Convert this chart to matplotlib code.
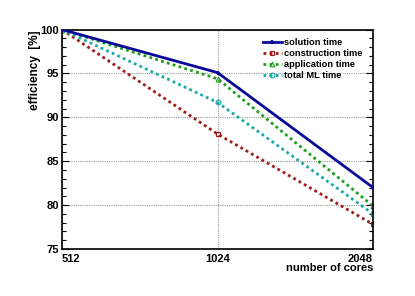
import matplotlib
matplotlib.use("Agg")
import matplotlib.pyplot as plt
from matplotlib.ticker import FixedLocator, NullFormatter

cores = [512, 1024, 2048]
solution = [100.0, 95.1, 82.0]
construction = [100.0, 88.1, 77.8]
application = [100.0, 94.4, 79.9]
total_ml = [100.0, 91.7, 79.0]
yticks = [75, 80, 85, 90, 95, 100]

plt.rcParams['font.family'] = ['Liberation Sans', 'DejaVu Sans']
plt.rcParams['font.weight'] = 'bold'

fig = plt.figure(figsize=(4.15, 2.96), dpi=100)
ax = fig.add_axes([0.1494, 0.159, 0.7494, 0.741])

ax.plot(cores, solution, color='#0a0a9a', lw=2.0, marker='+', ms=3.5, mew=1.5,
        label='solution time', zorder=5)
ax.plot(cores, construction, color='#a01818', lw=2.0, ls=(0, (1, 1.2)), marker='s',
        ms=3.5, mfc='none', mew=0.8, label='construction time')
ax.plot(cores, application, color='#18a018', lw=2.0, ls=(0, (1, 1.2)), marker='^',
        ms=3.5, mfc='none', mew=0.8, label='application time')
ax.plot(cores, total_ml, color='#18a8a8', lw=2.0, ls=(0, (1, 1.2)), marker='o',
        ms=3.5, mfc='none', mew=0.8, label='total ML time')

ax.set_xscale('log', base=2)
ax.set_xlim(512, 2048)
ax.set_ylim(75, 100)
ax.xaxis.set_major_locator(FixedLocator(cores))
ax.xaxis.set_minor_locator(FixedLocator([]))
ax.set_xticklabels([str(c) for c in cores])
ax.yaxis.set_major_locator(FixedLocator(yticks))
ax.yaxis.set_minor_locator(FixedLocator([v for v in range(75, 101) if v % 5]))
ax.yaxis.set_minor_formatter(NullFormatter())

ax.grid(True, which='major', color='#999999', ls=(0, (1, 1)), lw=0.8)
ax.tick_params(axis='both', which='both', direction='in', labelsize=8,
               right=True, top=False, length=5, width=0.8, pad=2)
ax.tick_params(axis='y', which='minor', length=3)
ax.tick_params(axis='x', which='major', length=0, pad=4)
for lbl, ha in zip(ax.get_xticklabels(), ['left', 'center', 'right']):
    lbl.set_horizontalalignment(ha)
for s in ax.spines.values():
    s.set_linewidth(1.2)

fig.text(35 / 415, 1 - 31 / 296, 'efficiency  [%]', rotation=90, ha='center',
         va='top', fontsize=8.5, fontweight='bold')
fig.text(0.899, 1 - 268 / 296, 'number of cores', ha='right', va='center',
         fontsize=8, fontweight='bold')

leg = ax.legend(loc='upper right', frameon=False, fontsize=6.7, handlelength=2.0,
                handletextpad=0.3, labelspacing=0.2, bbox_to_anchor=(0.985, 0.985),
                borderaxespad=0.2)

fig.savefig('out.png', dpi=100)
